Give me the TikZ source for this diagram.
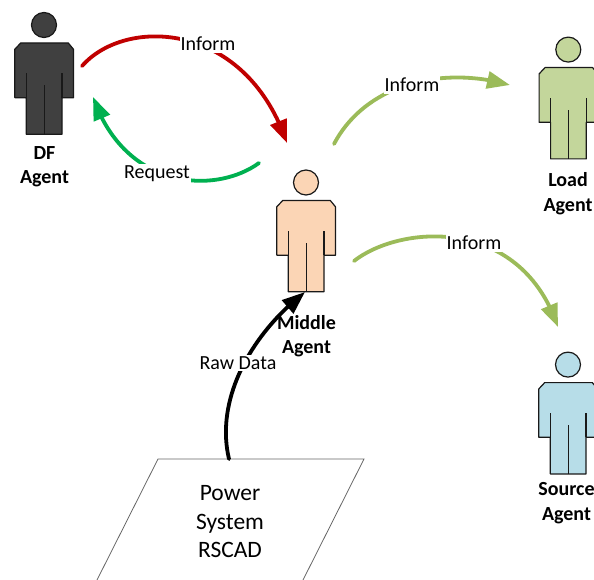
\documentclass[tikz,border=0pt]{standalone}
\usepackage{fontspec}
\setmainfont{Carlito}
\usetikzlibrary{arrows.meta,bending}
\definecolor{cred}{HTML}{C00000}
\definecolor{cgreen}{HTML}{00B050}
\definecolor{colive}{HTML}{9BBB59}
\definecolor{fdark}{HTML}{404040}
\definecolor{fpeach}{HTML}{FBD5B5}
\definecolor{fleaf}{HTML}{C3D69B}
\definecolor{fsky}{HTML}{B7DDE8}
\tikzset{
  flow/.style={line width=3.8pt,line cap=round,-{Triangle[length=23pt,width=17pt,flex]}},
  flowlabel/.style={fill=white,inner xsep=1pt,inner ysep=2pt,font=\fontsize{20}{24}\selectfont},
  agentname/.style={align=center,inner sep=0pt,font=\fontsize{20}{24.5}\selectfont\bfseries},
  figure/.style={draw=black!90,line width=1.2pt,line join=round},
}
% #1 fill colour, #2 x shift, #3 y shift
\newcommand{\agentfigure}[3]{%
  \begin{scope}[shift={(#2,#3)}]
    \draw[figure,fill=#1] (44,25) circle (12.5);
    \draw[figure,fill=#1] (20.7,43) -- (68.3,43) -- (73.5,49.3) -- (73.5,97.7) -- (62,97.7) -- (62,134.3)
      -- (26.3,134.3) -- (26.3,97.7) -- (14.8,97.7) -- (14.8,49.3) -- cycle;
    \draw[figure] (26.3,97.7) -- (26.3,73) (62,97.7) -- (62,73) (44.2,134.3) -- (44.2,85);
  \end{scope}}
\begin{document}
\begin{tikzpicture}[x=1pt,y=-1pt]
\useasboundingbox (0,0) rectangle (594,580);
\agentfigure{fdark}{0}{0}
\agentfigure{fpeach}{262}{157.5}
\agentfigure{fleaf}{524.3}{24.6}
\agentfigure{fsky}{524}{339.6}
\node[agentname] (df) at (44.5,166.5) {DF\\Agent};
\node[agentname] (middle) at (306.5,336) {Middle\\Agent};
\node[agentname] (load) at (568,193.5) {Load\\Agent};
\node[agentname] (source) at (566.5,503) {Source\\Agent};
% power system
\draw[black!60,line width=0.8pt] (97,580) -- (158,459) -- (364,459) -- (303,580);
\node[align=center,inner sep=0pt,font=\fontsize{23.5}{28.5}\selectfont] (power) at (230,522) {Power\\System\\RSCAD};
% free connector ends
\coordinate (dfOut) at (82,66);
\coordinate (midIn) at (287,143);
\coordinate (midOut) at (259,163);
\coordinate (dfIn) at (93,97);
\coordinate (midOutLoad) at (334,144);
\coordinate (loadIn) at (510,85);
\coordinate (midOutSrc) at (354,261);
\coordinate (srcIn) at (558,327);
\coordinate (powerOut) at (229,459);
\coordinate (midBottom) at (305,292);
% connectors
\draw[flow,cred] (dfOut) .. controls (125,17) and (245,20) .. (midIn);
\draw[flow,cgreen] (midOut) .. controls (215,195) and (125,190) .. (dfIn);
\draw[flow,colive] (midOutLoad) .. controls (365,85) and (440,65) .. (loadIn);
\draw[flow,colive] (midOutSrc) .. controls (400,225) and (520,215) .. (srcIn);
\draw[flow,black] (powerOut) .. controls (215,400) and (250,335) .. (midBottom);
% labels
\node[flowlabel] (l1) at (208,44) {Inform};
\node[flowlabel] (l2) at (157,174) {Request};
\node[flowlabel] (l3) at (412,85) {Inform};
\node[flowlabel] (l4) at (474,243) {Inform};
\node[flowlabel] (l5) at (238,363) {Raw Data};
\end{tikzpicture}
\end{document}
